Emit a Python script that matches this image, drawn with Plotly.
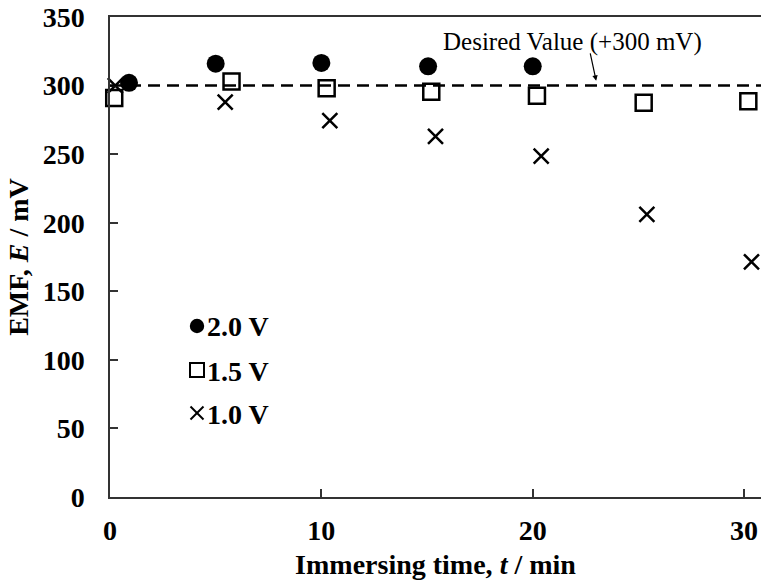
import plotly.graph_objects as go

# Immersing time (min) and EMF (mV) for each applied voltage
t_2v0 = [0.9, 5.0, 10.0, 15.05, 20.0]
emf_2v0 = [302, 316, 316.5, 314, 314]

t_1v5 = [0.2, 5.75, 10.25, 15.2, 20.2, 25.25, 30.2]
emf_1v5 = [291, 303, 298, 295.5, 292.5, 287.5, 288.5]

t_1v0 = [0.25, 5.45, 10.4, 15.4, 20.4, 25.4, 30.35]
emf_1v0 = [300, 288, 274.5, 263, 248.5, 206, 171.5]

series_labels = ["2.0 V", "1.5 V", "1.0 V"]

desired_emf = 300
x_ticks = [0, 10, 20, 30]
y_ticks = [0, 50, 100, 150, 200, 250, 300, 350]

FONT = "Liberation Serif"
BLACK = "#000000"
AXIS_FONT = dict(family=FONT, size=28, color=BLACK, weight="bold")

# Figure geometry (pixels)
W, H = 761, 587
ML, MR, MT, MB = 110, 0, 17, 90
PW, PH = W - ML - MR, H - MT - MB


def px_x(px):
    return (px - ML) / PW


def px_y(py):
    return (H - MB - py) / PH


fig = go.Figure()

fig.add_trace(go.Scatter(
    x=t_2v0, y=emf_2v0, mode="markers", name=series_labels[0],
    marker=dict(symbol="circle", size=18, color=BLACK),
    cliponaxis=False, showlegend=False,
))
fig.add_trace(go.Scatter(
    x=t_1v5, y=emf_1v5, mode="markers", name=series_labels[1],
    marker=dict(symbol="square-open", size=16, color=BLACK,
                line=dict(width=2.5, color=BLACK)),
    cliponaxis=False, showlegend=False,
))
fig.add_trace(go.Scatter(
    x=t_1v0, y=emf_1v0, mode="markers", name=series_labels[2],
    marker=dict(symbol="x-thin", size=15, color=BLACK,
                line=dict(width=2.5, color=BLACK)),
    cliponaxis=False, showlegend=False,
))

# Target EMF level
fig.add_shape(type="line", xref="paper", yref="y", x0=0, x1=1,
              y0=desired_emf, y1=desired_emf,
              line=dict(color=BLACK, width=2.5, dash="12px,7px"))

fig.add_annotation(x=21.86, y=332, xref="x", yref="y",
                   text="Desired Value (+300 mV)", showarrow=False,
                   font=dict(family=FONT, size=25, color=BLACK))
fig.add_annotation(x=23.0, y=desired_emf + 3.5, xref="x", yref="y",
                   text="", showarrow=True, ax=-6, ay=-28,
                   font=dict(size=1), borderpad=0, standoff=0,
                   startstandoff=0,
                   arrowhead=2, arrowsize=0.9, arrowwidth=1.2,
                   arrowcolor=BLACK)

# Key: symbol followed by the voltage label
key_x = 197
key_rows = [326, 370, 413]
half = 7.2
cx, cy = key_x, key_rows[0]
fig.add_shape(type="circle", xref="paper", yref="paper",
              x0=px_x(cx - half), x1=px_x(cx + half),
              y0=px_y(cy + half), y1=px_y(cy - half),
              fillcolor=BLACK, line=dict(color=BLACK, width=0))
cy = key_rows[1]
fig.add_shape(type="rect", xref="paper", yref="paper",
              x0=px_x(cx - 7), x1=px_x(cx + 7),
              y0=px_y(cy + 7), y1=px_y(cy - 7),
              fillcolor="rgba(0,0,0,0)", line=dict(color=BLACK, width=2))
cy = key_rows[2]
for s in (1, -1):
    fig.add_shape(type="line", xref="paper", yref="paper",
                  x0=px_x(cx - 6.5), x1=px_x(cx + 6.5),
                  y0=px_y(cy - 6.5 * s), y1=px_y(cy + 6.5 * s),
                  line=dict(color=BLACK, width=2))
for label, row in zip(series_labels, key_rows):
    fig.add_annotation(x=px_x(key_x + 8), y=px_y(row + 1),
                       xref="paper", yref="paper", xanchor="left",
                       yanchor="middle", text=label, showarrow=False,
                       font=dict(family=FONT, size=28, color=BLACK,
                                 weight="bold"))

fig.update_layout(
    width=W, height=H,
    margin=dict(l=ML, r=MR, t=MT, b=MB),
    plot_bgcolor="white", paper_bgcolor="white",
    font=dict(family=FONT, color=BLACK),
    showlegend=False,
    xaxis=dict(
        range=[0, 30.8], tickvals=x_ticks, ticks="inside", ticklen=8,
        tickwidth=1.5, tickcolor="#333", showline=True, linecolor="#333",
        linewidth=1.5, mirror=True, showgrid=False, zeroline=False,
        tickfont=AXIS_FONT,
        ticklabelstandoff=8,
        title=dict(text="Immersing time, <i>t</i> / min",
                   font=dict(family=FONT, size=28, color=BLACK, weight="bold"),
                   standoff=9),
    ),
    yaxis=dict(
        range=[0, 350], tickvals=y_ticks, ticks="inside", ticklen=8,
        tickwidth=1.5, tickcolor="#333", showline=True, linecolor="#333",
        linewidth=1.5, mirror=False, showgrid=False, zeroline=False,
        tickfont=AXIS_FONT,
        ticklabelstandoff=18,
        title=dict(text="EMF, <i>E</i> / mV",
                   font=dict(family=FONT, size=28, color=BLACK, weight="bold"),
                   standoff=6),
    ),
)

fig.write_html("out.html")
